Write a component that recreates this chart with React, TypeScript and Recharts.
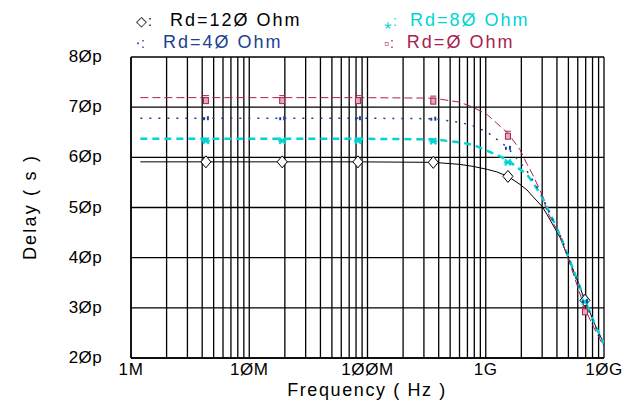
import React from "react";
import {
  LineChart,
  Line,
  XAxis,
  YAxis,
  CartesianGrid,
} from "recharts";

// frequency points (Hz)
const freqs = [1.2e6, 4.3e6, 1.9e7, 8.3e7, 3.6e8, 6e8, 7.8e8, 1.03e9, 1.24e9, 1.54e9, 1.95e9, 2.23e9, 2.5e9, 3e9, 3.3e9, 4.25e9, 5.5e9, 6.9e9, 8.4e9, 1e10];
// delay in ps
const rd120 = [59.1, 59.1, 59.1, 59.1, 59.0, 58.6, 58.2, 57.6, 57.1, 56.2, 54.6, 53.5, 52.2, 50.2, 48.6, 44.0, 37.5, 31.5, 26.6, 22.8];
const rd80 = [63.7, 63.7, 63.7, 63.7, 63.6, 63.0, 62.5, 61.3, 60.5, 59.4, 57.6, 56.6, 55.0, 52.1, 50.0, 44.5, 37.6, 31.6, 26.6, 22.8];
const rd40 = [67.8, 67.8, 67.8, 67.8, 67.7, 67.0, 66.3, 65.0, 63.6, 61.9, 59.0, 57.3, 55.4, 52.3, 50.0, 44.5, 37.4, 31.3, 26.4, 22.6];
const rd0 = [71.9, 71.9, 71.9, 71.9, 71.8, 71.0, 70.0, 68.5, 66.8, 64.8, 61.5, 58.7, 56.5, 52.5, 49.2, 44.4, 36.8, 29.8, 25.6, 22.2];
// where the symbols sit
const markerFreqs = [4.3e6, 1.9e7, 8.3e7, 3.6e8, 1.54e9, 6.9e9];

const decades = [1e6, 1e7, 1e8, 1e9, 1e10];
const decadeLabels = ["1M", "1ØM", "1ØØM", "1G", "1ØG"];
const yTicks = [20, 30, 40, 50, 60, 70, 80];
const yTickLabels = ["2Øp", "3Øp", "4Øp", "5Øp", "6Øp", "7Øp", "8Øp"];
const yMinorTicks = [22, 24, 26, 28, 32, 34, 36, 38, 42, 44, 46, 48, 52, 54, 56, 58, 62, 64, 66, 68, 72, 74, 76, 78];

const xTicks: number[] = [];
decades.slice(0, 4).forEach((d) => {
  for (let m = 1; m < 10; m++) xTicks.push(m * d);
});
xTicks.push(1e10);

const data = freqs.map((f, i) => ({
  f,
  rd120: rd120[i],
  rd80: rd80[i],
  rd40: rd40[i],
  rd0: rd0[i],
}));

const FONT = "'Liberation Sans', Arial, sans-serif";
const RED = "#a8204e";
const CYAN = "#00d4d4";
const BLUE = "#1c3f8f";

const isMarker = (f: number) => markerFreqs.some((m) => Math.abs(m - f) / m < 0.01);

const makeDot = (kind: string) => (props: any) => {
  const { cx, cy, payload, index } = props;
  if (!isMarker(payload.f) || cx == null) return <g key={index} />;
  if (kind === "diamond")
    return (
      <path
        key={index}
        d={`M${cx},${cy - 6} L${cx + 5},${cy} L${cx},${cy + 6} L${cx - 5},${cy} Z`}
        fill="#fff"
        stroke="#000"
        strokeWidth={1}
      />
    );
  if (kind === "star")
    return (
      <g key={index} stroke={CYAN} strokeWidth={2}>
        <line x1={cx - 4} y1={cy + 2} x2={cx + 4} y2={cy + 2} />
        <line x1={cx - 3} y1={cy - 1} x2={cx + 3} y2={cy + 5} />
        <line x1={cx + 3} y1={cy - 1} x2={cx - 3} y2={cy + 5} />
      </g>
    );
  if (kind === "dots")
    return (
      <g key={index} fill={BLUE}>
        <rect x={cx - 3} y={cy - 1} width={2} height={3} />
        <rect x={cx + 1} y={cy - 2} width={2} height={4} />
      </g>
    );
  return (
    <g key={index}>
      <line x1={cx - 3} y1={cy - 2} x2={cx + 3} y2={cy - 2} stroke={RED} strokeWidth={1} />
      <rect x={cx - 2.5} y={cy} width={5} height={6} fill="#e8a8c0" stroke={RED} strokeWidth={1} />
    </g>
  );
};

const XTick = (props: any) => {
  const { x, y, payload } = props;
  const i = decades.indexOf(payload.value);
  if (i < 0) return <g />;
  return (
    <text x={x} y={y + 9} textAnchor="middle" fontFamily={FONT} fontSize={17} letterSpacing={0.6} fill="#000">
      {decadeLabels[i]}
    </text>
  );
};

const YTick = (props: any) => {
  const { y, payload } = props;
  const i = yTicks.indexOf(payload.value);
  return (
    <text x={102} y={y + 5} textAnchor="end" fontFamily={FONT} fontSize={17} letterSpacing={0.4} fill="#000">
      {yTickLabels[i]}
    </text>
  );
};

const legendRows = [
  [
    { sym: "◇:", label: "Rd=12Ø Ohm", color: "#000", symColor: "#000" },
    { sym: "⁎:", label: "Rd=8Ø Ohm", color: CYAN, symColor: CYAN },
  ],
  [
    { sym: "⸱:", label: "Rd=4Ø Ohm", color: BLUE, symColor: BLUE },
    { sym: "▫:", label: "Rd=Ø Ohm", color: RED, symColor: RED },
  ],
];

export default function App() {
  return (
    <div style={{ position: "absolute", left: 0, top: 0, width: 629, height: 407, background: "#fff" }}>
      <LineChart
        width={629}
        height={407}
        data={data}
        margin={{ top: 57, right: 25, bottom: 19, left: 71 }}
      >
        <CartesianGrid stroke="#000" strokeWidth={1.3} />
        <XAxis
          dataKey="f"
          type="number"
          scale="log"
          domain={[1e6, 1e10]}
          ticks={xTicks}
          interval={0}
          tick={<XTick />}
          tickLine={false}
          axisLine={{ stroke: "#000", strokeWidth: 1.5 }}
          height={30}
          allowDataOverflow
        />
        <YAxis
          type="number"
          domain={[20, 80]}
          ticks={yTicks}
          interval={0}
          tick={<YTick />}
          tickLine={false}
          axisLine={{ stroke: "#000", strokeWidth: 1.5 }}
          width={60}
          allowDataOverflow
        />
        <YAxis
          yAxisId="minor"
          type="number"
          domain={[20, 80]}
          ticks={yMinorTicks}
          interval={0}
          mirror
          width={0}
          tick={false}
          tickSize={5}
          tickLine={{ stroke: "#000" }}
          axisLine={false}
        />
        <Line
          dataKey="rd120"
          stroke="#000"
          strokeWidth={1}
          dot={makeDot("diamond")}
          isAnimationActive={false}
        />
        <Line
          dataKey="rd80"
          stroke={CYAN}
          strokeWidth={2.5}
          strokeDasharray="7 5"
          dot={makeDot("star")}
          isAnimationActive={false}
        />
        <Line
          dataKey="rd40"
          stroke={BLUE}
          strokeWidth={1.5}
          strokeDasharray="2 7"
          dot={makeDot("dots")}
          isAnimationActive={false}
        />
        <Line
          dataKey="rd0"
          stroke={RED}
          strokeWidth={1}
          strokeDasharray="8 4"
          dot={makeDot("square")}
          isAnimationActive={false}
        />
      </LineChart>

      {legendRows.map((row, r) =>
        row.map((it, c) => (
          <div
            key={`${r}-${c}`}
            style={{
              position: "absolute",
              left: c === 0 ? 136 : 384,
              top: r === 0 ? 10 : 32,
              fontFamily: FONT,
              fontSize: 18,
              letterSpacing: 2,
              whiteSpace: "nowrap",
              lineHeight: "20px",
            }}
          >
            <span style={{ color: it.symColor, fontSize: 14, letterSpacing: 1 }}>{it.sym}</span>
            <span style={{ color: it.color, marginLeft: c === 0 ? 17 : 12 }}>{it.label}</span>
          </div>
        ))
      )}

      <div
        style={{
          position: "absolute",
          left: 367,
          top: 380,
          transform: "translateX(-50%)",
          fontFamily: FONT,
          fontSize: 18,
          letterSpacing: 1.6,
          whiteSpace: "nowrap",
        }}
      >
        Frequency ( Hz )
      </div>
      <div
        style={{
          position: "absolute",
          left: 30,
          top: 207,
          transform: "translate(-50%, -50%) rotate(-90deg)",
          fontFamily: FONT,
          fontSize: 18,
          letterSpacing: 2.2,
          whiteSpace: "nowrap",
        }}
      >
        Delay ( s )
      </div>
    </div>
  );
}
